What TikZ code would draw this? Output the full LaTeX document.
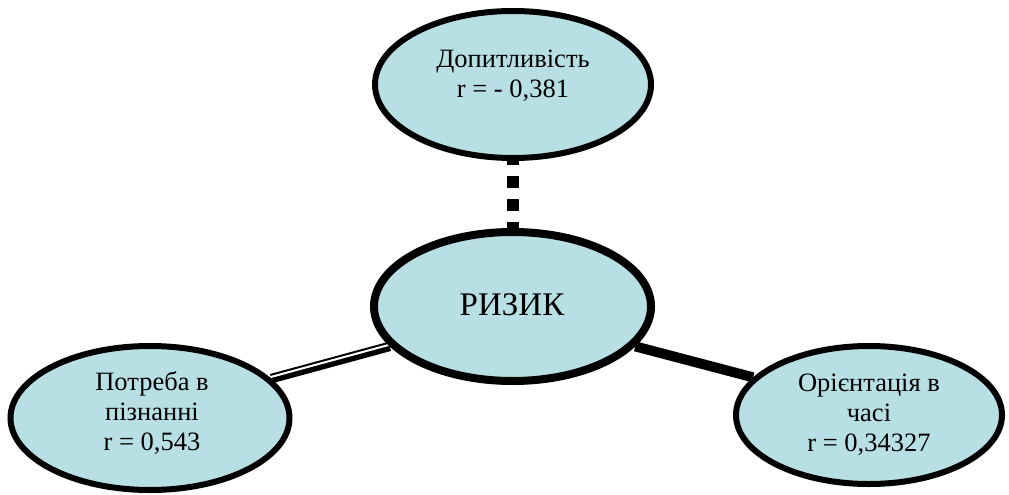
\documentclass[tikz,border=0pt]{standalone}
\usepackage{fontspec}
\setmainfont{Liberation Serif}
\usetikzlibrary{shapes.geometric,backgrounds}
\definecolor{bubble}{RGB}{184,223,227}
\tikzset{
  bub/.style={ellipse, draw=black, fill=bubble, line width=6pt, inner sep=0pt},
  txt/.style={align=center, inner sep=0pt, font=\fontsize{26.5}{30}\selectfont},
  bigtxt/.style={inner sep=0pt, font=\fontsize{33}{38}\selectfont},
}
\begin{document}
\begin{tikzpicture}[x=1pt,y=-1pt]
\useasboundingbox (0,0) rectangle (1009,495);
\node[bub, minimum width=276pt, minimum height=147pt] (t) at (513,84.5) {};
\node[bub, line width=8pt, minimum width=277pt, minimum height=149pt] (c) at (512.5,306.5) {};
\node[bub, minimum width=279pt, minimum height=144pt] (l) at (150,418) {};
\node[bub, minimum width=266pt, minimum height=138pt] (r) at (869,415) {};
\node[txt] (tt) at (513,76) {Допитливість\\r = - 0,381};
\node[bigtxt] (ct) at (512,305) {РИЗИК};
\node[txt] (lt) at (152,413) {Потреба в\\пізнанні\\r = 0,543};
\node[txt] (rt) at (869,415) {Орієнтація в\\часі\\r = 0,34327};
\begin{pgfonlayer}{background}
\draw[line width=12pt, dash pattern=on 12pt off 11pt, dash phase=8pt] (t.south) -- (t.south |- c.north);
\draw[line width=10pt] (c.-18) -- (r.162);
\draw[line width=9.5pt] (c.198) -- (l.18);
\draw[white, line width=2pt, transform canvas={shift={(-0.5pt,1.6pt)}}] (c.198) -- (l.18);
\end{pgfonlayer}
\end{tikzpicture}
\end{document}
